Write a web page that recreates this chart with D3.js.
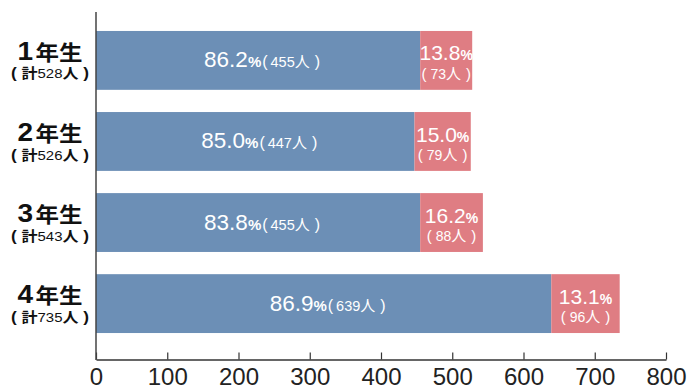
<!DOCTYPE html>
<html>
<head>
<meta charset="utf-8">
<script src="https://cdn.jsdelivr.net/npm/d3@7"></script>
<style>
  html, body { margin: 0; padding: 0; background: #fff; }
  svg { display: block; font-family: "Liberation Sans", Arial, "Noto Sans CJK JP", sans-serif; }
</style>
</head>
<body>
<svg id="chart" width="689" height="387"></svg>
<script>
// Grade categories and totals
const grades = ["1", "2", "3", "4"];
const totals = [528, 526, 543, 735];
// Students in each group
const countA = [455, 447, 455, 639];
const countB = [73, 79, 88, 96];
// Shares (%)
const pctA = ["86.2", "85.0", "83.8", "86.9"];
const pctB = ["13.8", "15.0", "16.2", "13.1"];
// Axis ticks
const xTicks = [0, 100, 200, 300, 400, 500, 600, 700, 800];

const colorA = "#6c8fb6";
const colorB = "#df7d83";

const svg = d3.select("#chart");
const x = d3.scaleLinear().domain([0, 800]).range([96, 666]);
const y = d3.scaleBand().domain(grades).range([12, 352]).paddingInner(0.274).paddingOuter(0.234);

// Bars
const rows = svg.append("g").selectAll("g").data(grades).join("g");
rows.append("rect")
  .attr("x", x(0)).attr("y", d => y(d))
  .attr("width", (d, i) => x(countA[i]) - x(0))
  .attr("height", y.bandwidth())
  .attr("fill", colorA);
rows.append("rect")
  .attr("x", (d, i) => x(countA[i])).attr("y", d => y(d))
  .attr("width", (d, i) => x(countA[i] + countB[i]) - x(countA[i]))
  .attr("height", y.bandwidth())
  .attr("fill", colorB);

// Labels inside the first segment
const la = rows.append("text")
  .attr("x", (d, i) => (x(0) + x(countA[i])) / 2 + 4)
  .attr("y", d => y(d) + y.bandwidth() / 2 + 7)
  .attr("text-anchor", "middle")
  .attr("fill", "#fff");
la.append("tspan").attr("font-size", 22.5).text((d, i) => pctA[i]);
la.append("tspan").attr("font-size", 15).attr("font-weight", "bold").text("%");
la.append("tspan").attr("font-size", 16).attr("dx", 1).text("(");
la.append("tspan").attr("font-size", 14.5).attr("dx", 3).text((d, i) => countA[i]);
la.append("tspan").attr("font-size", 15).text("人");
la.append("tspan").attr("font-size", 16).attr("dx", 5).text(")");

// Labels inside the second segment
const cxB = (i) => (x(countA[i]) + x(countA[i] + countB[i])) / 2;
const lb1 = rows.append("text")
  .attr("x", (d, i) => cxB(i))
  .attr("y", d => y(d) + 29.5)
  .attr("text-anchor", "middle")
  .attr("fill", "#fff");
lb1.append("tspan").attr("font-size", 21).text((d, i) => pctB[i]);
lb1.append("tspan").attr("font-size", 14).attr("font-weight", "bold").text("%");
const lb2 = rows.append("text")
  .attr("x", (d, i) => cxB(i))
  .attr("y", d => y(d) + 48)
  .attr("text-anchor", "middle")
  .attr("fill", "#fff");
lb2.append("tspan").attr("font-size", 15).text("(");
lb2.append("tspan").attr("font-size", 14).attr("dx", 4).text((d, i) => countB[i]);
lb2.append("tspan").attr("font-size", 15).text("人");
lb2.append("tspan").attr("font-size", 15).attr("dx", 5).text(")");

// Category labels on the left
const cats = svg.append("g").selectAll("g").data(grades).join("g");
const cat1 = cats.append("text")
  .attr("transform", d => `translate(50,${y(d) + 29}) scale(1.12,1)`)
  .attr("text-anchor", "middle").attr("fill", "#111");
cat1.append("tspan").attr("font-size", 25).attr("font-weight", "bold").text(d => d);
cat1.append("tspan").attr("font-size", 21).attr("font-weight", "bold").attr("dx", 2).text("年生");
const cat2 = cats.append("text")
  .attr("transform", d => `translate(50,${y(d) + 47.5}) scale(1.15,1)`)
  .attr("text-anchor", "middle").attr("fill", "#111");
cat2.append("tspan").attr("font-size", 15).attr("font-weight", "bold").text("(");
cat2.append("tspan").attr("font-size", 14).attr("font-weight", "bold").attr("dx", 4).text("計");
cat2.append("tspan").attr("font-size", 13).text((d, i) => totals[i]);
cat2.append("tspan").attr("font-size", 14).attr("font-weight", "bold").text("人");
cat2.append("tspan").attr("font-size", 15).attr("font-weight", "bold").attr("dx", 4).text(")");

// Axes
const xAxis = svg.append("g").attr("transform", "translate(0,359.5)")
  .call(d3.axisBottom(x).tickValues(xTicks).tickSizeInner(-7).tickSizeOuter(0).tickPadding(0));
xAxis.select(".domain").attr("stroke", "#333").attr("stroke-width", 1.5);
xAxis.selectAll(".tick line").attr("stroke", "#333").attr("stroke-width", 1.2);
xAxis.selectAll(".tick text").attr("font-size", 24).attr("fill", "#222")
  .attr("dy", null).attr("y", 25)
  .attr("font-family", "'Liberation Sans', Arial, sans-serif");

svg.append("line")
  .attr("x1", x(0)).attr("x2", x(0)).attr("y1", 12).attr("y2", 360)
  .attr("stroke", "#444").attr("stroke-width", 1.5);
</script>
</body>
</html>
